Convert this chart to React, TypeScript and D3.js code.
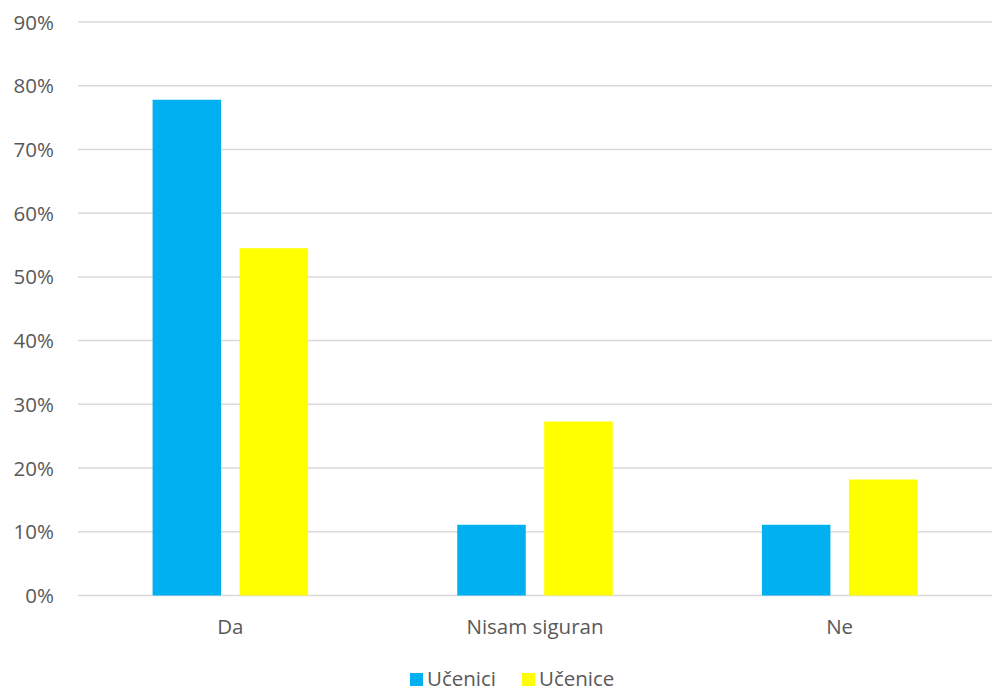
import React from "react";
import * as d3 from "d3";

const categories = ["Da", "Nisam siguran", "Ne"];
const seriesNames = ["Učenici", "Učenice"];
const ucenici = [0.778, 0.111, 0.111];
const ucenice = [0.545, 0.273, 0.182];
const yTicks = [0, 0.1, 0.2, 0.3, 0.4, 0.5, 0.6, 0.7, 0.8, 0.9];
const colors = ["#00B0F0", "#FFFF00"];

export default function App() {
  const W = 992, H = 691;
  const left = 78, right = 992, top = 22, bottom = 595.5;
  const x = d3.scaleBand<string>().domain(categories).range([left, right]).paddingInner(0).paddingOuter(0);
  const y = d3.scaleLinear().domain([0, 0.9]).range([bottom, top]);
  const bw = x.bandwidth();
  const barW = 68.5, gap = 18.5;
  const series = [ucenici, ucenice];
  const font = "'Open Sans', sans-serif";
  const fmt = d3.format(".0%");
  const fs = 20.5;
  return (
    <svg width={W} height={H} style={{ position: "absolute", left: 0, top: 0, background: "#fff" }} fontFamily={font}>
      {yTicks.map((t) => (
        <g key={t}>
          <line x1={left} x2={right} y1={y(t)} y2={y(t)} stroke="#d9d9d9" strokeWidth={1.5} />
          <text x={54} y={y(t) + 7.5} textAnchor="end" fontSize={fs} fill="#595959">{fmt(t)}</text>
        </g>
      ))}
      {categories.map((c, i) => {
        const cx = (x(c) as number) + bw / 2;
        const start = cx - (barW * 2 + gap) / 2;
        return (
          <g key={c}>
            {series.map((s, j) => (
              <rect key={j} x={start + j * (barW + gap)} y={y(s[i])} width={barW} height={y(0) - y(s[i])} fill={colors[j]} />
            ))}
            <text x={cx} y={634} textAnchor="middle" fontSize={fs} fill="#595959">{c}</text>
          </g>
        );
      })}
      {seriesNames.map((n, j) => {
        const lx = j === 0 ? 410 : 522;
        return (
          <g key={n}>
            <rect x={lx} y={673} width={13} height={13} fill={colors[j]} />
            <text x={lx + 17} y={686} fontSize={fs} fill="#595959">{n}</text>
          </g>
        );
      })}
    </svg>
  );
}
